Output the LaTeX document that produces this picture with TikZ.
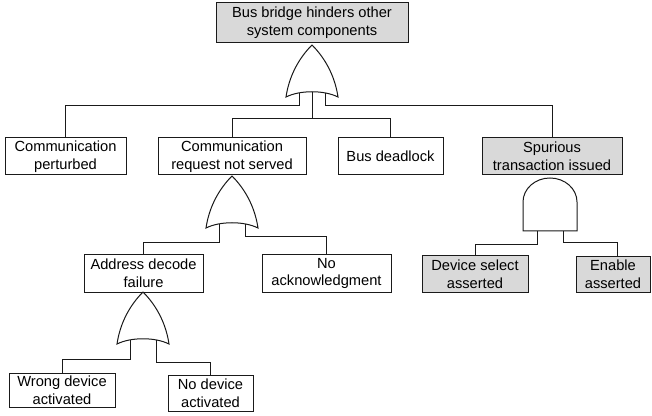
\documentclass[tikz,border=0pt]{standalone}
\usepackage{fontspec}
\setmainfont{Liberation Sans}
\usepackage{xcolor}
\usepackage{tikz}
\usetikzlibrary{positioning}
\definecolor{FtGray}{HTML}{D9D9D9}
\definecolor{FtDark}{HTML}{1A1A1A}
\tikzset{
  eventbox/.style={draw=FtDark,line width=0.75pt,align=center,inner sep=0pt,minimum height=27.75pt,font=\fontsize{11}{13.3}\selectfont,fill=white},
  basicev/.style={eventbox,fill=FtGray},
  wire/.style={line width=0.75pt,draw=FtDark},
  gateline/.style={line width=0.75pt,draw=FtDark,fill=white},
  orgate/.pic={
    \draw[gateline] (0,0) .. controls (-8,8) and (-22,25) .. (-26,52)
      .. controls (-12,45) and (12,45) .. (26,52)
      .. controls (22,25) and (8,8) .. (0,0) -- cycle;
    \coordinate (-l) at (-13,48);
    \coordinate (-m) at (0,47);
    \coordinate (-r) at (13,48);
  },
  andgate/.pic={
    \draw[gateline] (-27,53) -- (-27,24) .. controls (-27,10.75) and (-14.9,0) .. (0,0)
      .. controls (14.9,0) and (27,10.75) .. (27,24) -- (27,53) -- cycle;
    \coordinate (-l) at (-13,53);
    \coordinate (-r) at (13,53);
  }
}

\begin{document}
\begin{tikzpicture}[x=0.75pt,y=-0.75pt]
\useasboundingbox (0,0) rectangle (652,416);

\node[basicev,minimum width=144pt,minimum height=30pt] (top) at (312,23) {Bus bridge hinders other\\system components};

\node[eventbox,minimum width=90.75pt] (cp) at (65.5,156.5) {Communication\\perturbed};
\node[eventbox,minimum width=111pt] (cr) at (232,156.5) {Communication\\request not served};
\node[eventbox,minimum width=78.75pt] (bd) at (390.5,156.5) {Bus deadlock};
\node[basicev,minimum width=105pt] (st) at (552,156.5) {Spurious\\transaction issued};

\node[eventbox,minimum width=89.25pt] (ad) at (143.5,273.5) {Address decode\\failure};
\node[eventbox,minimum width=96.75pt] (na) at (326.5,273.5) {No\\acknowledgment};
\node[basicev,minimum width=79.5pt,minimum height=27pt] (ds) at (475,274) {Device select\\asserted};
\node[basicev,minimum width=55.5pt,minimum height=26.25pt] (en) at (613,274.5) {Enable\\asserted};

\node[eventbox,minimum width=79.5pt,minimum height=25.5pt] (wd) at (62,390) {Wrong device\\activated};
\node[eventbox,minimum width=63.75pt,minimum height=27pt] (nd) at (210.5,393) {No device\\activated};

\pic (g1) at (312,45) {orgate};
\pic (g2) at (232,176) {orgate};
\pic (g3) at (143,292) {orgate};
\pic (g4) at (550,178) {andgate};

\draw[wire] (g1-l) -- ++(0,13) -| (cp.north);
\draw[wire] (g1-m) -- ++(0,27) coordinate (j1) -| (cr.north);
\draw[wire] (j1) -| (bd.north);
\draw[wire] (g1-r) -- ++(0,13) -| (st.north);

\draw[wire] (g2-l) -- ++(0,19) -| (ad.north);
\draw[wire] (g2-r) -- ++(0,13) -| (na.north);

\draw[wire] (g3-l) -- ++(0,19) -| (wd.north);
\draw[wire] (g3-r) -- ++(0,22) -| (nd.north);

\draw[wire] (g4-l) -- ++(0,14) -| (ds.north);
\draw[wire] (g4-r) -- ++(0,12) -| ([xshift=3pt]en.north);
\end{tikzpicture}
\end{document}
